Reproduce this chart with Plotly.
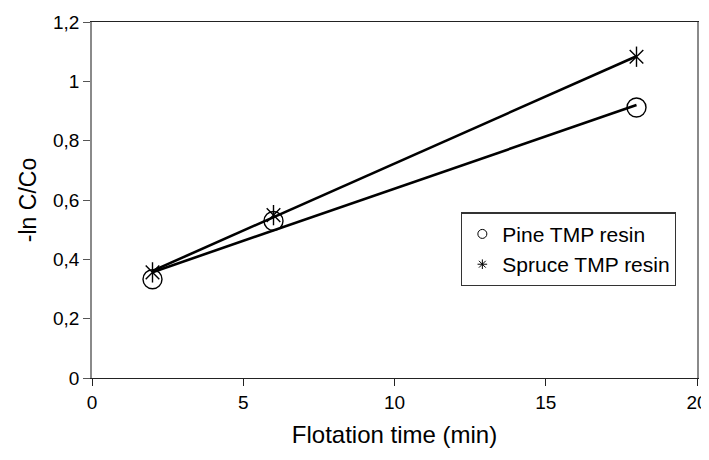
import numpy as np
import plotly.graph_objects as go

time_min = [2, 6, 18]
pine = [0.333, 0.529, 0.912]
spruce = [0.356, 0.549, 1.083]
x_ticks = [0, 5, 10, 15, 20]
y_ticks = [0, 0.2, 0.4, 0.6, 0.8, 1.0, 1.2]
y_tick_labels = ["0", "0,2", "0,4", "0,6", "0,8", "1", "1,2"]

FONT = "Liberation Sans, Arial, sans-serif"


def fit(x, y):
    k, b = np.polyfit(x, y, 1)
    xs = [min(x), max(x)]
    return xs, [k * v + b for v in xs]


fig = go.Figure()
px_, py_ = fit(time_min, pine)
sx_, sy_ = fit(time_min, spruce)
fig.add_trace(go.Scatter(x=px_, y=py_, mode="lines", line=dict(color="black", width=2.6),
                         showlegend=False, hoverinfo="skip"))
fig.add_trace(go.Scatter(x=sx_, y=sy_, mode="lines", line=dict(color="black", width=2.6),
                         showlegend=False, hoverinfo="skip"))
# data markers
fig.add_trace(go.Scatter(x=time_min, y=pine, mode="markers", showlegend=False, name="Pine TMP resin",
                         marker=dict(symbol="circle-open", size=19, color="black", line=dict(width=1.4))))
fig.add_trace(go.Scatter(x=time_min, y=spruce, mode="markers", showlegend=False, name="Spruce TMP resin",
                         marker=dict(symbol="x-thin-open", size=13.6, color="black", line=dict(width=1.4, color="black"))))
fig.add_trace(go.Scatter(x=time_min, y=spruce, mode="markers", showlegend=False, hoverinfo="skip",
                         marker=dict(symbol="line-ns-open", size=14.5, color="black", line=dict(width=1.4, color="black"))))
# legend entries (small symbols as in the reference)
fig.add_trace(go.Scatter(x=[None], y=[None], mode="markers", name="Pine TMP resin",
                         marker=dict(symbol="circle-open", size=9, color="black", line=dict(width=1))))
fig.add_trace(go.Scatter(x=[None], y=[None], mode="markers", name="Spruce TMP resin",
                         marker=dict(symbol="asterisk-open", size=8, color="black", line=dict(width=1, color="black"))))

fig.update_xaxes(range=[0, 20], tickvals=x_ticks, ticktext=[str(v) for v in x_ticks],
                 showgrid=False, zeroline=False, showline=True, linecolor="#222222", linewidth=1.3,
                 mirror=True, ticks="outside", ticklen=7, tickcolor="#222222", tickwidth=1.2,
                 tickfont=dict(family=FONT, size=19, color="black"), automargin=False,
                 title=dict(text="Flotation time (min)", font=dict(family=FONT, size=24, color="black"),
                            standoff=14))
fig.update_yaxes(range=[0, 1.2], tickvals=y_ticks, ticktext=y_tick_labels,
                 showgrid=False, zeroline=False, showline=True, linecolor="#8a8a8a", linewidth=1.5,
                 mirror=True, ticks="outside", ticklen=7, tickcolor="#555555", tickwidth=1.2,
                 tickfont=dict(family=FONT, size=19, color="black"), automargin=False,
                 title=dict(text="-ln C/Co", font=dict(family=FONT, size=23, color="black"),
                            standoff=10))
# page has an 8px body margin: figure is 701x452 placed at (8,8)
fig.update_layout(
    width=701, height=452, plot_bgcolor="white", paper_bgcolor="white",
    margin=dict(l=84, r=12, t=14, b=82),
    legend=dict(x=0.61, y=0.465, xanchor="left", yanchor="top", bordercolor="#333333", borderwidth=1.3,
                bgcolor="white", font=dict(family=FONT, size=21, color="black"),
                itemsizing="trace", tracegroupgap=2),
)
fig.write_html("out.html")
